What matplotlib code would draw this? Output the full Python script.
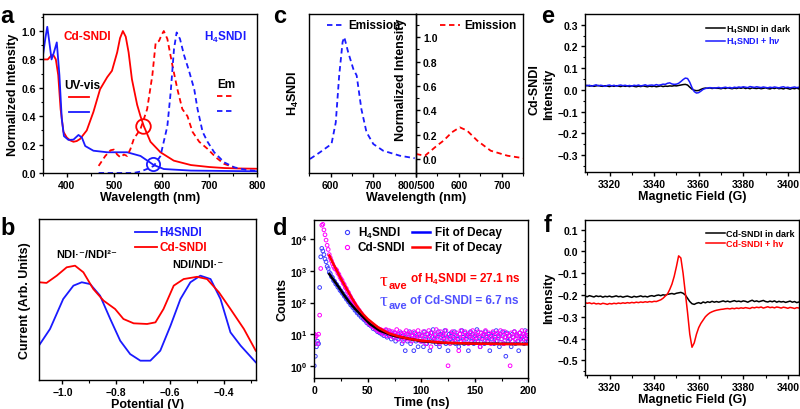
import matplotlib
matplotlib.use("Agg")
import matplotlib.pyplot as plt
from matplotlib.ticker import MultipleLocator, FixedLocator, NullLocator, LogLocator, FixedFormatter

plt.rcParams.update({
    'font.family': ['Liberation Sans', 'DejaVu Sans'],
    'font.weight': 'bold',
    'axes.labelweight': 'bold',
    'axes.linewidth': 1.0,
    'mathtext.fontset': 'custom',
    'mathtext.rm': 'Liberation Sans:bold',
    'mathtext.it': 'Liberation Sans:italic:bold',
    'mathtext.bf': 'Liberation Sans:bold',
    'xtick.labelsize': 7.5, 'ytick.labelsize': 7.5,
    'xtick.major.size': 3, 'ytick.major.size': 3,
    'xtick.minor.size': 1.8, 'ytick.minor.size': 1.8,
    'xtick.major.width': 1, 'ytick.major.width': 1,
    'xtick.minor.width': 0.8, 'ytick.minor.width': 0.8,
    'xtick.major.pad': 2, 'ytick.major.pad': 2,
})

# ---------------- data: panel a ----------------
uv_cd_wl = [350, 360, 368, 372, 377, 382, 387, 393, 400, 407, 414, 421, 428, 442, 456, 470, 485, 495,
            506, 512, 518, 524, 530, 537, 548, 555, 562, 576, 597, 625, 661, 700, 731, 760, 800]
uv_cd = [0.80, 0.80, 0.83, 0.83, 0.80, 0.69, 0.45, 0.29, 0.25, 0.23, 0.22, 0.225, 0.24, 0.30, 0.43, 0.59,
         0.675, 0.72, 0.85, 0.95, 1.0, 0.96, 0.85, 0.66, 0.48, 0.40, 0.33, 0.22, 0.146, 0.087, 0.056,
         0.042, 0.035, 0.032, 0.03]
uv_h4_wl = [350, 355, 359, 363, 368, 373, 379, 384.5, 389.5, 394, 403.5, 414, 424.6, 431.7, 438.8, 456,
            485, 527, 555, 583, 604, 661, 800]
uv_h4 = [0.83, 0.95, 1.03, 0.93, 0.80, 0.85, 0.92, 0.69, 0.38, 0.26, 0.233, 0.235, 0.268, 0.25, 0.19,
         0.157, 0.146, 0.146, 0.12, 0.056, 0.028, 0.017, 0.012]
em_cd_wl = [467, 481, 492, 499, 506, 513, 520, 527, 534, 541, 555, 569, 580, 587, 594, 599, 604, 611.5,
            622, 632.6, 643, 653.8, 664.4, 678.5, 696, 713.6, 731, 752]
em_cd = [0.05, 0.12, 0.16, 0.165, 0.13, 0.11, 0.13, 0.12, 0.17, 0.24, 0.31, 0.45, 0.69, 0.92, 0.93, 0.97,
         1.0, 0.945, 0.76, 0.59, 0.45, 0.40, 0.29, 0.22, 0.17, 0.11, 0.064, 0.04]
em_h4_wl = [467, 500, 540, 555, 570, 583, 597, 611.5, 618.5, 625.5, 631, 638, 646.6, 657, 668, 675,
            685.6, 696, 710, 731, 752, 780, 800]
em_h4 = [0.0, 0.0, 0.0, 0.01, 0.03, 0.05, 0.12, 0.33, 0.57, 0.875, 0.99, 0.945, 0.83, 0.72, 0.59, 0.45,
         0.29, 0.22, 0.146, 0.075, 0.04, 0.02, 0.015]
mark_red = (561, 0.334)
mark_blue = (581, 0.064)

# ---------------- data: panel b ----------------
cv_h4_v = [-1.086, -1.046, -0.997, -0.959, -0.928, -0.897, -0.86, -0.822, -0.785, -0.748, -0.71, -0.673,
           -0.636, -0.598, -0.561, -0.524, -0.487, -0.449, -0.412, -0.375, -0.337, -0.281]
cv_h4 = [0.217, 0.317, 0.503, 0.586, 0.607, 0.596, 0.524, 0.379, 0.244, 0.161, 0.12, 0.12, 0.182, 0.337,
         0.503, 0.607, 0.648, 0.627, 0.503, 0.296, 0.213, 0.11]
cv_cd_v = [-1.086, -1.059, -1.021, -0.984, -0.953, -0.922, -0.885, -0.847, -0.804, -0.773, -0.735, -0.685,
           -0.654, -0.624, -0.586, -0.549, -0.499, -0.462, -0.418, -0.375, -0.325, -0.281]
cv_cd = [0.607, 0.603, 0.648, 0.70, 0.71, 0.669, 0.565, 0.493, 0.441, 0.379, 0.352, 0.348, 0.358, 0.441,
         0.586, 0.627, 0.641, 0.627, 0.545, 0.441, 0.317, 0.182]

# ---------------- data: panel c ----------------
c_h4_wl = [551.6, 575, 602, 612, 620, 628, 632, 641, 653, 661, 672, 684, 700, 723, 762, 797]
c_h4 = [0.0, 0.055, 0.123, 0.30, 0.685, 0.96, 1.0, 0.877, 0.74, 0.685, 0.41, 0.22, 0.123, 0.068, 0.027, 0.006]
c_cd_wl = [500, 521, 549, 564, 584, 602, 619, 643, 674, 713, 751]
c_cd = [0.041, 0.027, 0.11, 0.15, 0.22, 0.26, 0.233, 0.15, 0.068, 0.027, 0.006]

# ---------------- data: panel d ----------------
time_ns = list(range(0, 201))
h4_counts = [1, 2, 4, 6, 5, 300, 2800, 5200, 4300, 3300,
             2400, 1950, 1400, 1200, 900, 820, 660, 620, 500, 470,
             390, 370, 310, 295, 245, 232, 200, 188, 160, 152,
             128, 124, 104, 101, 84, 82, 70, 68, 57, 58,
             47, 49, 40, 42, 34, 36, 30, 28, 27, 23,
             25, 20, 21, 18, 19, 15, 17, 14, 16, 12,
             14, 11, 13, 10, 12, 9, 11, 13, 8, 10,
             9, 12, 7, 10, 8, 11, 6, 9, 10, 7,
             8, 11, 5, 9, 7, 3, 10, 6, 8, 12,
             5, 9, 7, 3, 11, 6, 8, 4, 10, 7,
             6, 9, 4, 12, 7, 5, 10, 8, 3, 11,
             6, 14, 7, 9, 5, 8, 12, 4, 10, 6,
             9, 7, 13, 5, 8, 3, 10, 7, 11, 6,
             8, 12, 5, 9, 7, 4, 10, 6, 13, 8,
             5, 11, 7, 9, 3, 8, 12, 6, 10, 5,
             9, 7, 14, 6, 8, 4, 11, 7, 9, 5,
             12, 8, 6, 10, 3, 9, 7, 11, 5, 8,
             13, 6, 9, 4, 10, 7, 12, 5, 8, 2,
             11, 6, 9, 7, 4, 10, 8, 12, 5, 9,
             6, 3, 11, 7, 8, 10, 5, 13, 7, 9,
             6]
cd_counts = [10, 8, 9, 5, 10, 40, 1200, 28000, 30000, 20000,
             14000, 9500, 6500, 4800, 3300, 2600, 2100, 1700, 1400, 1200,
             1150, 1050, 860, 780, 640, 560, 500, 410, 370, 300,
             275, 225, 205, 170, 150, 128, 115, 98, 88, 76,
             70, 60, 56, 48, 45, 39, 36, 32, 30, 27,
             26, 22, 23, 19, 20, 17, 18, 15, 16, 13,
             15, 12, 14, 11, 13, 10, 12, 14, 9, 11,
             13, 9, 10, 12, 8, 11, 9, 14, 7, 10,
             12, 8, 10, 6, 11, 9, 13, 7, 10, 8,
             11, 6, 9, 12, 8, 10, 7, 13, 9, 6,
             9, 6, 12, 8, 5, 10, 7, 13, 9, 4,
             11, 8, 6, 10, 14, 7, 9, 5, 12, 8,
             10, 6, 9, 13, 7, 1, 8, 5, 10, 12,
             7, 9, 6, 11, 8, 3, 10, 13, 7, 9,
             6, 12, 8, 10, 5, 9, 11, 7, 13, 8,
             6, 10, 9, 12, 7, 4, 11, 8, 10, 6,
             13, 9, 7, 11, 8, 5, 10, 12, 7, 9,
             6, 11, 8, 10, 13, 7, 9, 5, 12, 8,
             10, 7, 9, 1, 11, 6, 8, 12, 7, 10,
             9, 6, 11, 8, 13, 7, 10, 9, 6, 12,
             8]
fit_h4_t = [14, 20, 24, 28, 33, 38, 43, 52, 61, 74, 90, 100, 120, 150, 200]
fit_h4 = [800, 420, 270, 170, 100, 64, 43, 21, 13, 8.9, 7, 6, 5.3, 5.0, 4.9]
fit_cd_t = [14, 17, 20, 25, 30, 35, 40, 45, 50, 60, 70, 80, 90, 100, 120, 150, 200]
fit_cd = [3100, 1900, 1200, 560, 280, 140, 75, 45, 30, 16, 10.5, 8.3, 7, 6.2, 5.4, 5.0, 4.8]

# ---------------- data: panels e, f ----------------
field_G = list(range(3309, 3406))
e_dark = [0.018, 0.020, 0.017, 0.019, 0.016, 0.018, 0.020, 0.017, 0.016, 0.019,
          0.017, 0.015, 0.018, 0.016, 0.019, 0.017, 0.015, 0.018, 0.016, 0.017,
          0.015, 0.018, 0.016, 0.014, 0.017, 0.015, 0.018, 0.016, 0.014, 0.017,
          0.015, 0.017, 0.014, 0.016, 0.018, 0.015, 0.017, 0.016, 0.018, 0.017,
          0.019, 0.018, 0.020, 0.022, 0.024, 0.025, 0.022, 0.012, 0.003, -0.002,
          -0.004, -0.003, 0.002, 0.006, 0.008, 0.007, 0.009, 0.006, 0.008, 0.007,
          0.007, 0.005, 0.008, 0.006, 0.009, 0.007, 0.005, 0.008, 0.006, 0.009,
          0.007, 0.010, 0.006, 0.008, 0.005, 0.009, 0.007, 0.006, 0.008, 0.005,
          0.007, 0.009, 0.006, 0.004, 0.008, 0.006, 0.009, 0.005, 0.007, 0.004,
          0.008, 0.006, 0.003, 0.007, 0.005, 0.008, 0.004]
e_light = [0.022, 0.019, 0.021, 0.017, 0.020, 0.023, 0.018, 0.021, 0.019, 0.016,
           0.020, 0.022, 0.018, 0.021, 0.017, 0.020, 0.022, 0.019, 0.021, 0.018,
           0.020, 0.017, 0.021, 0.019, 0.022, 0.018, 0.020, 0.023, 0.019, 0.021,
           0.022, 0.020, 0.024, 0.021, 0.023, 0.026, 0.025, 0.030, 0.032, 0.027,
           0.025, 0.026, 0.030, 0.038, 0.047, 0.054, 0.052, 0.035, 0.010, -0.008,
           -0.015, -0.013, -0.006, 0.002, 0.006, 0.008, 0.010, 0.009, 0.008, 0.009,
           0.011, 0.008, 0.010, 0.012, 0.009, 0.011, 0.008, 0.012, 0.010, 0.013,
           0.011, 0.014, 0.012, 0.010, 0.015, 0.013, 0.011, 0.014, 0.012, 0.010,
           0.013, 0.011, 0.009, 0.012, 0.010, 0.013, 0.011, 0.009, 0.012, 0.014,
           0.010, 0.012, 0.009, 0.011, 0.013, 0.010, 0.012]
f_dark = [-0.205, -0.208, -0.203, -0.206, -0.209, -0.204, -0.207, -0.205, -0.210, -0.206,
          -0.208, -0.205, -0.209, -0.207, -0.204, -0.208, -0.206, -0.210, -0.207, -0.205,
          -0.208, -0.211, -0.206, -0.209, -0.207, -0.204, -0.208, -0.206, -0.209, -0.205,
          -0.203, -0.206, -0.202, -0.200, -0.203, -0.199, -0.201, -0.197, -0.195, -0.193,
          -0.196, -0.192, -0.190, -0.188, -0.192, -0.200, -0.215, -0.230, -0.240, -0.243,
          -0.238, -0.235, -0.239, -0.232, -0.236, -0.231, -0.234, -0.229, -0.233, -0.230,
          -0.233, -0.230, -0.227, -0.231, -0.228, -0.232, -0.229, -0.226, -0.230, -0.228,
          -0.231, -0.227, -0.229, -0.233, -0.228, -0.224, -0.230, -0.227, -0.231, -0.228,
          -0.225, -0.230, -0.232, -0.228, -0.231, -0.227, -0.233, -0.229, -0.232, -0.230,
          -0.234, -0.231, -0.228, -0.233, -0.230, -0.235, -0.232]
f_light = [-0.235, -0.238, -0.236, -0.240, -0.237, -0.241, -0.239, -0.242, -0.238, -0.240,
           -0.243, -0.239, -0.241, -0.238, -0.240, -0.237, -0.239, -0.236, -0.238, -0.235,
           -0.237, -0.234, -0.236, -0.233, -0.235, -0.232, -0.234, -0.231, -0.233, -0.230,
           -0.232, -0.229, -0.230, -0.226, -0.222, -0.215, -0.205, -0.195, -0.175, -0.150,
           -0.115, -0.070, -0.020, -0.030, -0.100, -0.190, -0.280, -0.380, -0.440, -0.420,
           -0.380, -0.350, -0.330, -0.315, -0.300, -0.290, -0.282, -0.277, -0.273, -0.270,
           -0.268, -0.266, -0.265, -0.263, -0.262, -0.264, -0.261, -0.263, -0.260, -0.262,
           -0.259, -0.261, -0.258, -0.260, -0.262, -0.257, -0.259, -0.256, -0.258, -0.255,
           -0.260, -0.257, -0.254, -0.258, -0.256, -0.259, -0.255, -0.257, -0.260, -0.256,
           -0.258, -0.261, -0.257, -0.259, -0.262, -0.258, -0.260]

RED = '#ff0000'
BLUE = '#1a1aff'

fig = plt.figure(figsize=(8, 4.1), dpi=100)


def P(l, t, r, b):
    return [l / 800, 1 - b / 410, (r - l) / 800, (b - t) / 410]


def style(ax):
    ax.tick_params(which='both', direction='out', top=False, right=False)


def fx(px, l, r):
    return (px - l) / (r - l)


def fy(py, t, b):
    return (b - py) / (b - t)


LBL = 9
DASH = (0, (3, 2))

# ---------------- panel a ----------------
ax = fig.add_axes(P(43, 15, 257, 174))
ax.plot(uv_cd_wl, uv_cd, color=RED, lw=1.3)
ax.plot(uv_h4_wl, uv_h4, color=BLUE, lw=1.3)
ax.plot(em_cd_wl, em_cd, color=RED, lw=1.3, ls=DASH)
ax.plot(em_h4_wl, em_h4, color=BLUE, lw=1.3, ls=DASH)
ax.plot(*mark_red, 'o', ms=10.5, mfc='none', mec=RED, mew=1.3)
ax.plot(*mark_blue, 'o', ms=9.5, mfc='none', mec=BLUE, mew=1.3)
ax.set_xlim(350, 800)
ax.set_ylim(0, 1.12)
ax.xaxis.set_major_locator(FixedLocator([400, 500, 600, 700, 800]))
ax.xaxis.set_minor_locator(MultipleLocator(50))
ax.yaxis.set_major_locator(MultipleLocator(0.2))
ax.yaxis.set_minor_locator(MultipleLocator(0.1))
ax.yaxis.set_major_formatter(lambda v, p: f"{v:.1f}")
style(ax)
ax.set_xlabel('Wavelength (nm)', fontsize=LBL, labelpad=1)
ax.set_ylabel('Normalized Intensity', fontsize=LBL, labelpad=2)
ax.text(393, 0.965, 'Cd-SNDI', color=RED, fontsize=8.5, va='center')
ax.text(688, 0.965, 'H$_4$SNDI', color=BLUE, fontsize=8.5, va='center')
ax.text(395, 0.62, 'UV-vis', color='black', fontsize=8.5, va='center')
ax.plot([405, 446], [0.536, 0.536], color=RED, lw=1.3)
ax.plot([405, 446], [0.43, 0.43], color=BLUE, lw=1.3)
ax.text(716, 0.63, 'Em', color='black', fontsize=8.5, va='center')
ax.plot([716, 752], [0.54, 0.54], color=RED, lw=1.3, ls=DASH)
ax.plot([716, 752], [0.44, 0.44], color=BLUE, lw=1.3, ls=DASH)

# ---------------- panel b ----------------
ax = fig.add_axes(P(39, 220, 256, 381))
ax.plot(cv_h4_v, cv_h4, color=BLUE, lw=1.3)
ax.plot(cv_cd_v, cv_cd, color=RED, lw=1.3)
ax.set_xlim(-1.087, -0.28)
ax.set_ylim(0, 1)
ax.xaxis.set_major_locator(FixedLocator([-1.0, -0.8, -0.6, -0.4]))
ax.xaxis.set_minor_locator(MultipleLocator(0.1))
ax.xaxis.set_major_formatter(lambda v, p: f"{v:.1f}".replace('-', '\u2212'))
ax.yaxis.set_major_locator(NullLocator())
style(ax)
ax.set_xlabel('Potential (V)', fontsize=LBL, labelpad=1)
ax.set_ylabel('Current (Arb. Units)', fontsize=LBL, labelpad=6)
tb = ax.transAxes
bx = lambda px: fx(px, 39, 256)
by = lambda py: fy(py, 220, 381)
ax.plot([bx(135), bx(157)], [by(233.3)] * 2, color=BLUE, lw=1.3, transform=tb)
ax.plot([bx(135), bx(157)], [by(248.3)] * 2, color=RED, lw=1.3, transform=tb)
ax.text(bx(159), by(233.3), 'H4SNDI', color=BLUE, fontsize=8.5, va='center', transform=tb)
ax.text(bx(159), by(248.3), 'Cd-SNDI', color=RED, fontsize=8.5, va='center', transform=tb)
ax.text(bx(56), by(255), 'NDI\u00b7\u207b/NDI\u00b2\u207b', fontsize=8, va='center', transform=tb)
ax.text(bx(172), by(265), 'NDI/NDI\u00b7\u207b', fontsize=8, va='center', transform=tb)

# ---------------- panel c ----------------
axl = fig.add_axes(P(309.3, 15, 416, 174))
axr = fig.add_axes(P(416, 15, 523.3, 174))
axr.patch.set_visible(False)
axl.plot(c_h4_wl, c_h4, color=BLUE, lw=1.3, ls=DASH)
axr.plot(c_cd_wl, c_cd, color=RED, lw=1.3, ls=DASH)
for a in (axl, axr):
    a.set_ylim(-0.115, 1.19)
axl.set_xlim(550, 800)
axr.set_xlim(500, 750)
axl.xaxis.set_major_locator(FixedLocator([600, 700, 800]))
axl.xaxis.set_major_formatter(FixedFormatter(['600', '700', '800/500']))
axl.xaxis.set_minor_locator(MultipleLocator(50))
axr.xaxis.set_major_locator(FixedLocator([500, 600, 700]))
axr.xaxis.set_major_formatter(FixedFormatter(['', '600', '700']))
axr.xaxis.set_minor_locator(MultipleLocator(50))
axl.tick_params(which='both', direction='out', top=False, left=False, labelleft=False,
                right=True, labelright=True)
axl.yaxis.set_major_locator(FixedLocator([0, 0.2, 0.4, 0.6, 0.8, 1.0]))
axl.yaxis.set_major_formatter(lambda v, p: f"{v:.1f}")
axl.yaxis.set_minor_locator(FixedLocator([0.1, 0.3, 0.5, 0.7, 0.9, 1.1]))
axr.tick_params(which='both', direction='out', top=False, left=False, labelleft=False, right=False)
axr.yaxis.set_major_locator(NullLocator())
axr.yaxis.set_minor_locator(NullLocator())
fig.text(416 / 800, 1 - 198 / 410, 'Wavelength (nm)', fontsize=LBL, ha='center', va='center')
fig.text(401.5 / 800, 1 - 80 / 410, 'Normalized Intensity', fontsize=LBL, rotation=90, ha='center', va='center')
fig.text(293 / 800, 1 - 93 / 410, 'H$_4$SNDI', fontsize=LBL, rotation=90, ha='center', va='center')
fig.text(535 / 800, 1 - 90 / 410, 'Cd-SNDI', fontsize=LBL, rotation=90, ha='center', va='center')
axl.plot([fx(326.7, 309.3, 416), fx(343.3, 309.3, 416)], [fy(26, 15, 174)] * 2, color=BLUE, lw=1.3,
         ls=DASH, transform=axl.transAxes)
axl.text(fx(348, 309.3, 416), fy(26, 15, 174), 'Emission', fontsize=8.5, va='center', transform=axl.transAxes)
axr.plot([fx(440, 416, 523.3), fx(460, 416, 523.3)], [fy(26, 15, 174)] * 2, color=RED, lw=1.3,
         ls=DASH, transform=axr.transAxes)
axr.text(fx(464, 416, 523.3), fy(26, 15, 174), 'Emission', fontsize=8.5, va='center', transform=axr.transAxes)

# ---------------- panel d ----------------
ax = fig.add_axes(P(314.3, 220.7, 528.3, 379))
ax.scatter(time_ns, h4_counts, s=7, facecolors='none', edgecolors='#4040ff', linewidths=0.7, zorder=2)
ax.scatter(time_ns, cd_counts, s=7, facecolors='none', edgecolors='#ff00ff', linewidths=0.7, zorder=2)
ax.plot(fit_h4_t, fit_h4, color='black', lw=1.8, zorder=3)
ax.plot(fit_cd_t, fit_cd, color=RED, lw=1.8, zorder=3)
ax.set_yscale('log')
ax.set_xlim(0, 200)
ax.set_ylim(0.41, 42000)
ax.xaxis.set_major_locator(MultipleLocator(50))
ax.xaxis.set_minor_locator(MultipleLocator(25))
ax.yaxis.set_major_locator(LogLocator(base=10, numticks=10))
ax.yaxis.set_minor_locator(NullLocator())
style(ax)
ax.set_xlabel('Time (ns)', fontsize=LBL, labelpad=1)
ax.set_ylabel('Counts', fontsize=LBL, labelpad=1)
td = ax.transAxes
dx = lambda px: fx(px, 314.3, 528.3)
dy = lambda py: fy(py, 220.7, 379)
ax.plot([dx(346.7)], [dy(233.3)], 'o', ms=3, mfc='none', mec='#4040ff', mew=0.8, transform=td)
ax.plot([dx(346.7)], [dy(247.7)], 'o', ms=3, mfc='none', mec='#ff00ff', mew=0.8, transform=td)
ax.text(dx(358), dy(233.3), 'H$_4$SNDI', fontsize=8.5, va='center', transform=td)
ax.text(dx(358), dy(247.7), 'Cd-SNDI', fontsize=8.5, va='center', transform=td)
ax.plot([dx(411.7), dx(430)], [dy(233.3)] * 2, color='#0000ff', lw=1.8, transform=td)
ax.plot([dx(411.7), dx(430)], [dy(247.7)] * 2, color=RED, lw=1.8, transform=td)
ax.text(dx(435), dy(233.3), 'Fit of Decay', fontsize=8.5, va='center', transform=td)
ax.text(dx(435), dy(247.7), 'Fit of Decay', fontsize=8.5, va='center', transform=td)


def tau_text(x, y, rest, color):
    t1 = ax.text(x, y, '\u03c4', transform=td, fontsize=14, color=color,
                 family=['Liberation Serif', 'DejaVu Serif'], fontweight='normal', va='baseline')
    t2 = ax.annotate('ave', xy=(1, 0), xycoords=t1, xytext=(0.3, -1), textcoords='offset points',
                     fontsize=8, color=color, va='bottom', ha='left')
    ax.annotate(rest, xy=(1, 0), xycoords=t2, xytext=(2.5, 3), textcoords='offset points',
                fontsize=8.5, color=color, va='bottom', ha='left')


tau_text(dx(380), dy(286), 'of H$_4$SNDI = 27.1 ns', RED)
tau_text(dx(380), dy(306), 'of Cd-SNDI = 6.7 ns', '#5050ff')

# ---------------- panels e, f ----------------
for (pos, dark, light, col, ylim, ticks, leg_y, names) in [
    (P(585, 15, 799, 172.7), e_dark, e_light, BLUE, (-0.377, 0.349), [-0.3, -0.2, -0.1, 0.0, 0.1, 0.2, 0.3],
     (15, 172.7, 29.3, 41.7), ('H$_4$SNDI in dark', 'H$_4$SNDI + h$\\nu$')),
    (P(585, 221, 799, 376), f_dark, f_light, RED, (-0.5675, 0.1446), [-0.5, -0.4, -0.3, -0.2, -0.1, 0.0, 0.1],
     (221, 376, 234.3, 244.3), ('Cd-SNDI in dark', 'Cd-SNDI + hv')),
]:
    ax = fig.add_axes(pos)
    ax.plot(field_G, dark, color='black', lw=1.1)
    ax.plot(field_G, light, color=col, lw=1.1)
    ax.set_xlim(3309, 3405)
    ax.set_ylim(*ylim)
    ax.xaxis.set_major_locator(MultipleLocator(20))
    ax.xaxis.set_minor_locator(MultipleLocator(10))
    ax.yaxis.set_major_locator(FixedLocator(ticks))
    ax.yaxis.set_minor_locator(MultipleLocator(0.05))
    ax.yaxis.set_major_formatter(lambda v, p: f"{v:.1f}".replace('-', '\u2212'))
    style(ax)
    ax.set_xlabel('Magnetic Field (G)', fontsize=LBL, labelpad=1)
    ax.set_ylabel('Intensity', fontsize=LBL, labelpad=2)
    t, b, y1, y2 = leg_y
    ta = ax.transAxes
    ax.plot([fx(705.7, 585, 799), fx(725, 585, 799)], [fy(y1, t, b)] * 2, color='black', lw=1.1, transform=ta)
    ax.plot([fx(705.7, 585, 799), fx(725, 585, 799)], [fy(y2, t, b)] * 2, color=col, lw=1.1, transform=ta)
    ax.text(fx(726.5, 585, 799), fy(y1, t, b), names[0], fontsize=6.5, va='center', transform=ta)
    ax.text(fx(726.5, 585, 799), fy(y2, t, b), names[1], fontsize=6.5, va='center', color=col, transform=ta)

# ---------------- panel letters ----------------
for (px, py, s) in [(0, 23, 'a'), (0, 235, 'b'), (273, 23, 'c'), (273, 235, 'd'), (541, 23, 'e'), (544, 232, 'f')]:
    fig.text(px / 800, 1 - py / 410, s, fontsize=17, fontweight='bold', va='baseline', ha='left')

fig.savefig('out.png', dpi=100)
